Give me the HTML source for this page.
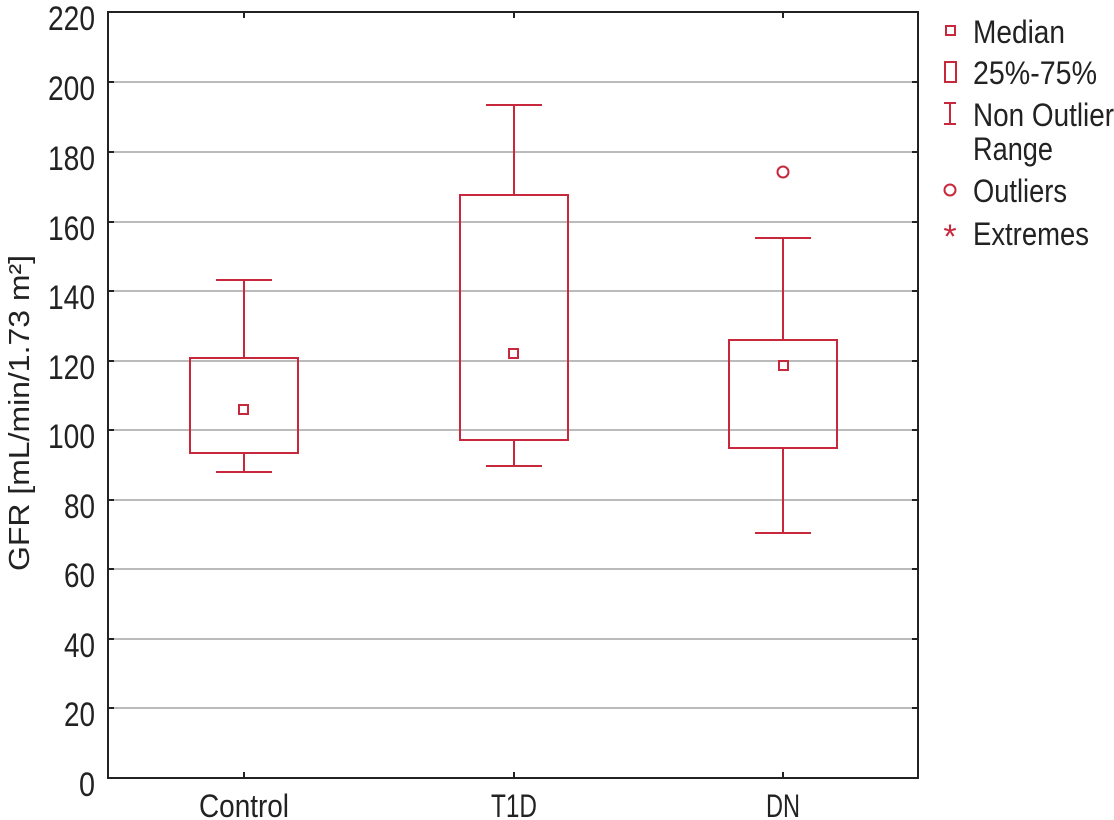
<!DOCTYPE html>
<html><head><meta charset="utf-8"><style>body{margin:0;background:#fff}svg{display:block}</style></head>
<body>
<svg width="1114" height="820" viewBox="0 0 1114 820" font-family="'Liberation Sans',sans-serif" fill="#222">
<g stroke="#bbb" stroke-width="2">
<line x1="108" x2="918" y1="82" y2="82"/><line x1="108" x2="918" y1="152" y2="152"/>
<line x1="108" x2="918" y1="222" y2="222"/><line x1="108" x2="918" y1="291" y2="291"/>
<line x1="108" x2="918" y1="361" y2="361"/><line x1="108" x2="918" y1="430" y2="430"/>
<line x1="108" x2="918" y1="500" y2="500"/><line x1="108" x2="918" y1="569" y2="569"/>
<line x1="108" x2="918" y1="639" y2="639"/><line x1="108" x2="918" y1="708" y2="708"/>
</g>
<rect x="108" y="12" width="810" height="766" fill="none" stroke="#222" stroke-width="2"/>
<g stroke="#222" stroke-width="2">
<line x1="108" x2="114" y1="82" y2="82"/><line x1="108" x2="114" y1="152" y2="152"/><line x1="108" x2="114" y1="222" y2="222"/><line x1="108" x2="114" y1="291" y2="291"/><line x1="108" x2="114" y1="361" y2="361"/><line x1="108" x2="114" y1="430" y2="430"/><line x1="108" x2="114" y1="500" y2="500"/><line x1="108" x2="114" y1="569" y2="569"/><line x1="108" x2="114" y1="639" y2="639"/><line x1="108" x2="114" y1="708" y2="708"/>
<line x1="912" x2="918" y1="82" y2="82"/><line x1="912" x2="918" y1="152" y2="152"/><line x1="912" x2="918" y1="222" y2="222"/><line x1="912" x2="918" y1="291" y2="291"/><line x1="912" x2="918" y1="361" y2="361"/><line x1="912" x2="918" y1="430" y2="430"/><line x1="912" x2="918" y1="500" y2="500"/><line x1="912" x2="918" y1="569" y2="569"/><line x1="912" x2="918" y1="639" y2="639"/><line x1="912" x2="918" y1="708" y2="708"/>
<line x1="244" x2="244" y1="772" y2="778"/><line x1="514" x2="514" y1="772" y2="778"/><line x1="783" x2="783" y1="772" y2="778"/>
<line x1="244" x2="244" y1="12" y2="18"/><line x1="514" x2="514" y1="12" y2="18"/><line x1="783" x2="783" y1="12" y2="18"/>
</g>
<g font-size="34" text-anchor="end">
<text x="95" y="30" textLength="47" lengthAdjust="spacingAndGlyphs">220</text>
<text x="95" y="100" textLength="47" lengthAdjust="spacingAndGlyphs">200</text>
<text x="95" y="170" textLength="47" lengthAdjust="spacingAndGlyphs">180</text>
<text x="95" y="240" textLength="47" lengthAdjust="spacingAndGlyphs">160</text>
<text x="95" y="309" textLength="47" lengthAdjust="spacingAndGlyphs">140</text>
<text x="95" y="379" textLength="47" lengthAdjust="spacingAndGlyphs">120</text>
<text x="95" y="448" textLength="47" lengthAdjust="spacingAndGlyphs">100</text>
<text x="95" y="518" textLength="31" lengthAdjust="spacingAndGlyphs">80</text>
<text x="95" y="587" textLength="31" lengthAdjust="spacingAndGlyphs">60</text>
<text x="95" y="657" textLength="31" lengthAdjust="spacingAndGlyphs">40</text>
<text x="95" y="726" textLength="31" lengthAdjust="spacingAndGlyphs">20</text>
<text x="95" y="796" textLength="16" lengthAdjust="spacingAndGlyphs">0</text>
</g>
<g font-size="32" text-anchor="middle">
<text x="244" y="817" textLength="90" lengthAdjust="spacingAndGlyphs">Control</text>
<text x="514" y="817" textLength="46" lengthAdjust="spacingAndGlyphs">T1D</text>
<text x="783" y="817" textLength="34" lengthAdjust="spacingAndGlyphs">DN</text>
</g>
<text transform="translate(29,413) rotate(-90)" font-size="29" text-anchor="middle" textLength="316" lengthAdjust="spacingAndGlyphs">GFR [mL/min/1.73 m²]</text>
<g stroke="#c8283c" stroke-width="2" fill="none">
<line x1="244" x2="244" y1="280" y2="358"/><line x1="244" x2="244" y1="453" y2="472"/>
<line x1="216" x2="272" y1="280" y2="280"/><line x1="216" x2="272" y1="472" y2="472"/>
<rect x="190" y="358" width="108" height="95"/><rect x="239" y="405" width="9" height="9"/>
<line x1="514" x2="514" y1="105" y2="195"/><line x1="514" x2="514" y1="440" y2="466"/>
<line x1="486" x2="542" y1="105" y2="105"/><line x1="486" x2="542" y1="466" y2="466"/>
<rect x="460" y="195" width="108" height="245"/><rect x="509" y="349" width="9" height="9"/>
<line x1="783" x2="783" y1="238" y2="340"/><line x1="783" x2="783" y1="448" y2="533"/>
<line x1="755" x2="811" y1="238" y2="238"/><line x1="755" x2="811" y1="533" y2="533"/>
<rect x="729" y="340" width="108" height="108"/><rect x="779" y="361" width="9" height="9"/>
<circle cx="783" cy="172" r="5.5"/>
<rect x="946" y="26" width="9" height="9"/>
<rect x="945" y="62" width="11" height="20"/>
<line x1="950" x2="950" y1="103" y2="124"/><line x1="944" x2="956" y1="103" y2="103"/><line x1="944" x2="956" y1="124" y2="124"/>
<circle cx="950" cy="190" r="5.5"/>
</g>
<text x="950" y="248" font-size="34" fill="#c8283c" text-anchor="middle">*</text>
<g font-size="32">
<text x="973" y="43" textLength="92" lengthAdjust="spacingAndGlyphs">Median</text>
<text x="973" y="84" textLength="124" lengthAdjust="spacingAndGlyphs">25%-75%</text>
<text x="973" y="126" textLength="141" lengthAdjust="spacingAndGlyphs">Non Outlier</text>
<text x="973" y="160" textLength="80" lengthAdjust="spacingAndGlyphs">Range</text>
<text x="973" y="202" textLength="94" lengthAdjust="spacingAndGlyphs">Outliers</text>
<text x="973" y="245" textLength="116" lengthAdjust="spacingAndGlyphs">Extremes</text>
</g>
</svg>
</body></html>
